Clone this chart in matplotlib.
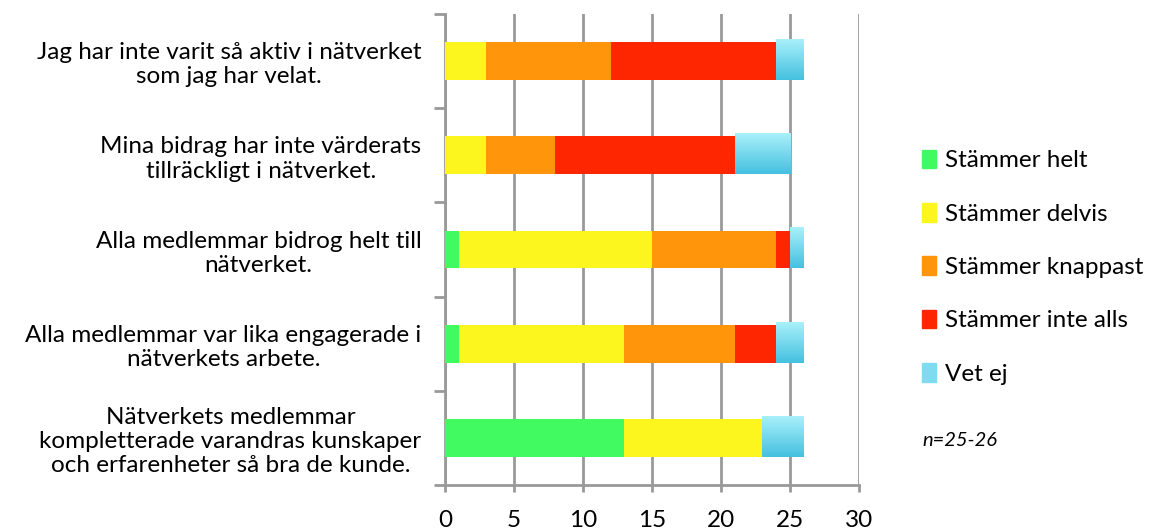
import numpy as np
import matplotlib.pyplot as plt
from matplotlib.patches import Patch
from matplotlib.colors import LinearSegmentedColormap

plt.rcParams['font.family'] = ['Lato', 'DejaVu Sans']

categories = [
    "Nätverkets medlemmar\nkompletterade varandras kunskaper\noch erfarenheter så bra de kunde.",
    "Alla medlemmar var lika engagerade i\nnätverkets arbete.",
    "Alla medlemmar bidrog helt till\nnätverket.",
    "Mina bidrag har inte värderats\ntillräckligt i nätverket.",
    "Jag har inte varit så aktiv i nätverket\nsom jag har velat.",
]
series = ["Stämmer helt", "Stämmer delvis", "Stämmer knappast", "Stämmer inte alls", "Vet ej"]
helt = [13, 1, 1, 0, 0]
delvis = [10, 12, 14, 3, 3]
knappast = [0, 8, 9, 5, 9]
inte_alls = [0, 3, 1, 13, 12]
vet_ej = [3, 2, 1, 4, 2]
colors = ['#41FA62', '#FDF51E', '#FE950A', '#FE2600', '#7FDCF0']
xticks = [0, 5, 10, 15, 20, 25, 30]

fig = plt.figure(figsize=(11.59, 5.31), dpi=100)
ax = fig.add_axes([445 / 1159, 1 - 485 / 531, 414 / 1159, 471 / 531])

y = np.arange(len(categories))
h = 0.4
left = np.zeros(len(categories))
data = [helt, delvis, knappast, inte_alls, vet_ej]
cmap = LinearSegmentedColormap.from_list('vb', ['#A8F0FA', '#45C1E0'])
grad = np.linspace(0, 1, 50).reshape(-1, 1)
for vals, col, name in zip(data, colors, series):
    vals = np.array(vals, dtype=float)
    if name == "Vet ej":
        # light blue bars have a vertical gradient
        for yi, l, v in zip(y, left, vals):
            if v > 0:
                ax.imshow(grad, cmap=cmap, aspect='auto', interpolation='bilinear',
                          extent=[l, l + v, yi - h / 2, yi + h / 2 + 0.03], zorder=3)
    else:
        ax.barh(y, vals, left=left, height=h, color=col, zorder=3)
    left += vals

ax.set_xlim(0, 30)
ax.set_ylim(-0.5, len(categories) - 0.5)
ax.set_xticks(xticks)
ax.set_xticklabels([str(t) for t in xticks], fontsize=17.5)
ax.set_yticks(np.arange(-0.5, len(categories), 1))
ax.set_yticklabels([])
ax.set_yticks(y, minor=True)
ax.set_yticklabels(categories, minor=True, fontsize=17.5, ha='right', multialignment='center')
ax.tick_params(axis='y', which='minor', length=0, pad=17)
ax.tick_params(axis='y', which='major', length=8, width=2, color='#999999')
ax.tick_params(axis='x', length=5, width=2, color='#999999', pad=13)
ax.xaxis.grid(True, color='#999999', linewidth=2, zorder=0)
for s in ['top', 'right']:
    ax.spines[s].set_visible(False)
for s in ['left', 'bottom']:
    ax.spines[s].set_color('#999999')
    ax.spines[s].set_linewidth(2)
ax.set_axisbelow(True)

handles = [Patch(color=c) for c in colors]
fig.legend(handles, series, loc='upper left', bbox_to_anchor=(912 / 1159, 1 - 140 / 531),
           frameon=False, fontsize=17.5, labelspacing=1.3, handlelength=0.6, handleheight=0.8,
           handletextpad=0.35, borderaxespad=0)
fig.text(922 / 1159, 1 - 441 / 531, "n=25-26", fontsize=14.5, style='italic', va='center')

fig.savefig('out.png', dpi=100)
